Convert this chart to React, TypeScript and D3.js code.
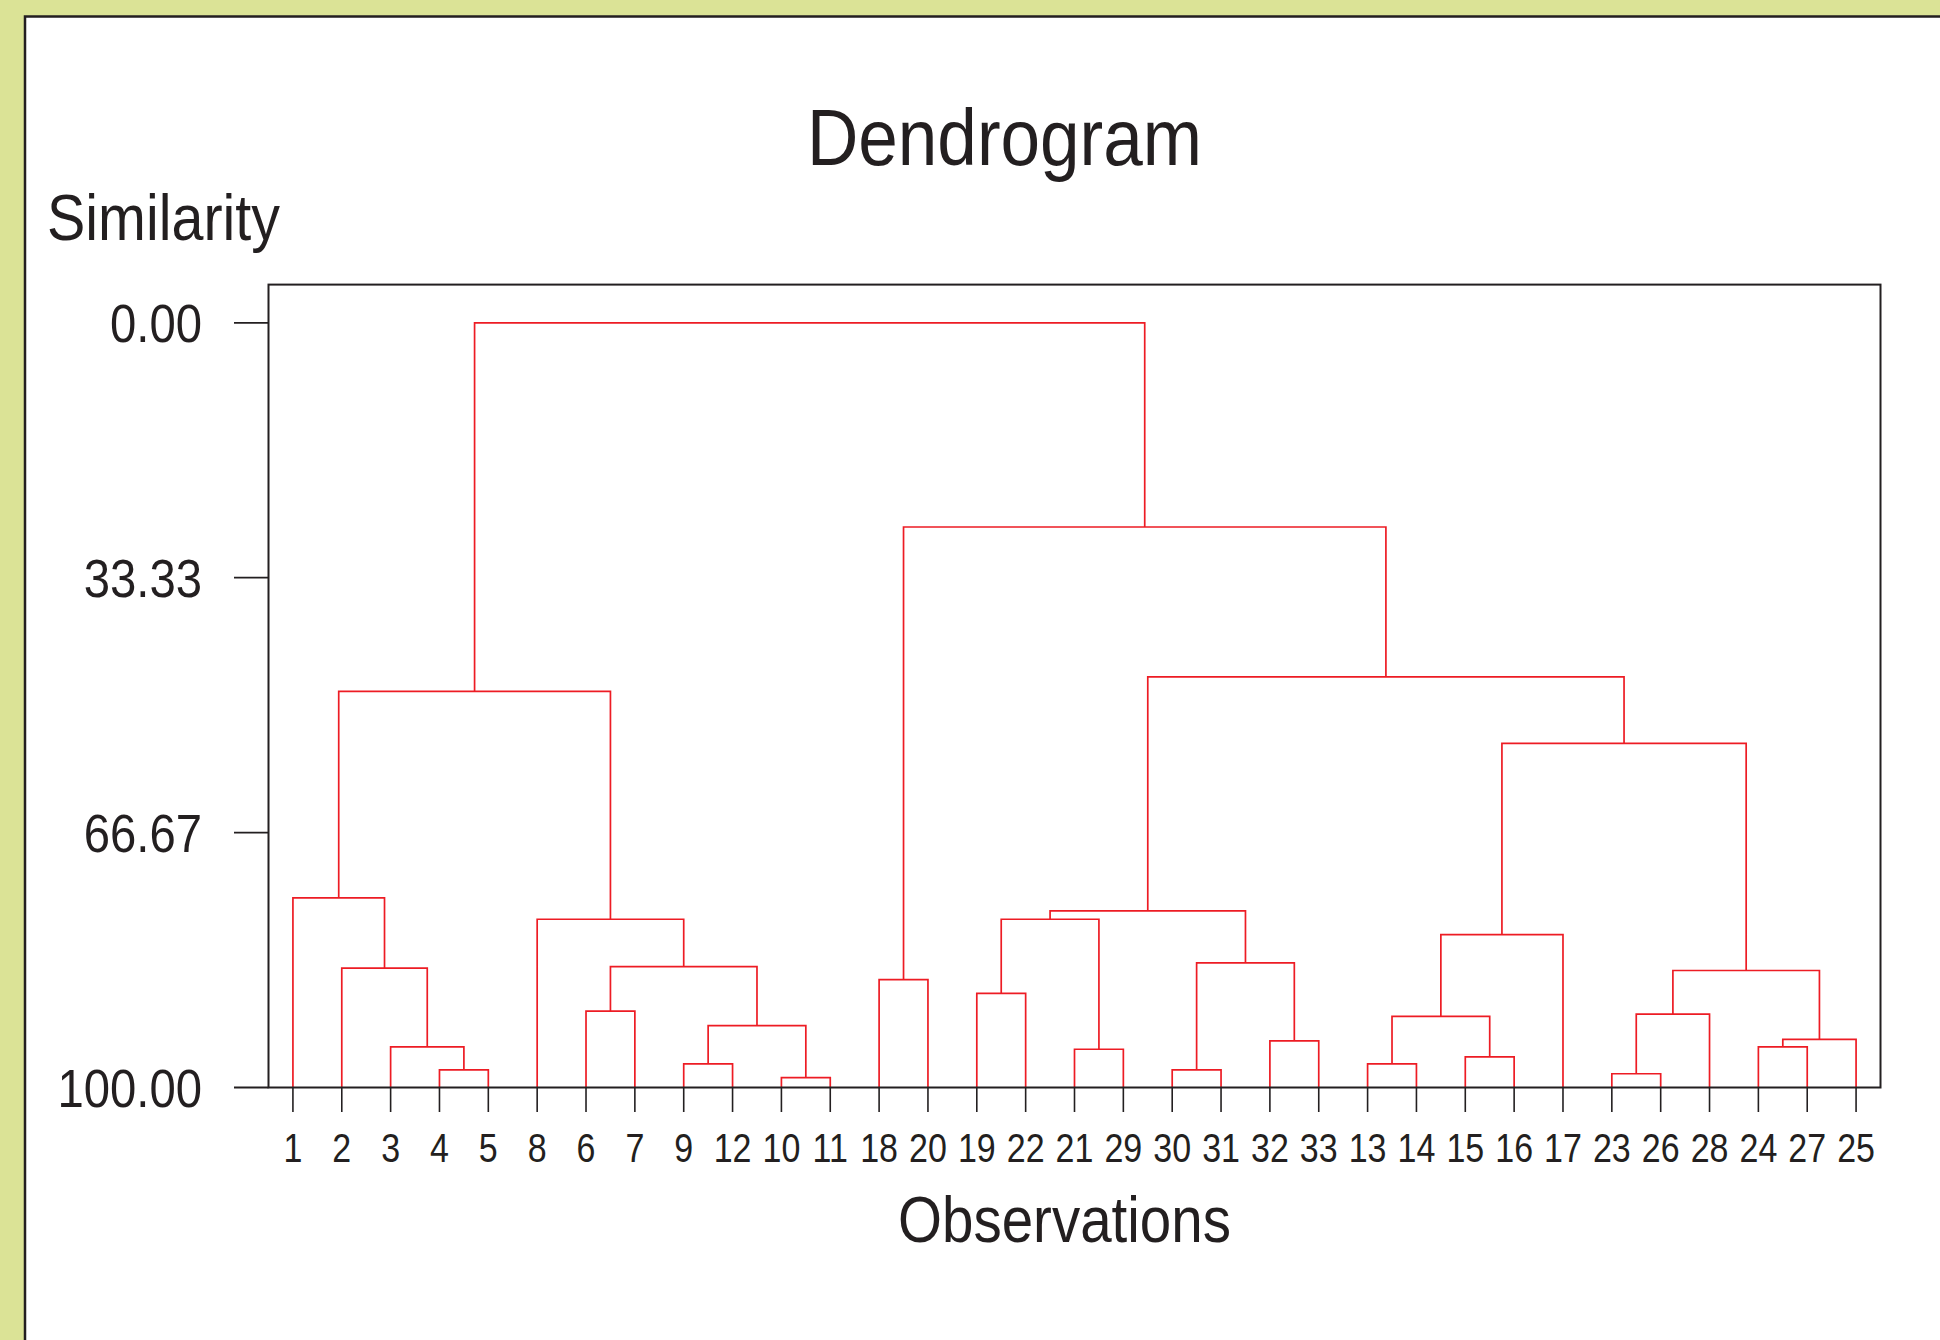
import React from "react";
import * as d3 from "d3";

// ---- Data ----
const leafOrder = ["1","2","3","4","5","8","6","7","9","12","10","11","18","20","19","22","21","29","30","31","32","33","13","14","15","16","17","23","26","28","24","27","25"];

// Linkage: each merge joins two nodes (leaf label or "c<k>" = k-th merge, 1-based) at a similarity level
const mergeLeft = ["4","3","2","1","10","9","c6","6","c8","8","c4","18","19","21","c13","30","32","c16","c15","13","15","c20","c22","23","c24","24","c26","c25","c23","c19","c12","c11"];
const mergeRight = ["5","c1","c2","c3","11","12","c5","7","c7","c9","c10","20","22","29","c14","31","33","c17","c18","14","16","c21","17","26","28","27","25","c27","c28","c29","c30","c31"];
const mergeSimilarity = [97.7,94.7,84.4,75.2,98.7,96.9,91.9,90.0,84.2,78.0,48.2,85.9,87.7,95.0,78.0,97.7,93.9,83.7,76.9,96.9,96.0,90.7,80.0,98.2,90.4,94.7,93.7,84.7,55.0,46.3,26.7,0.0];

const yTickValues = [0, 33.33, 66.67, 100];
const yTickLabels = ["0.00", "33.33", "66.67", "100.00"];

const titleText = "Dendrogram";
const yTitle = "Similarity";
const xTitle = "Observations";

// ---- Layout ----
const W = 1940, H = 1340;
const box = { left: 268.5, top: 284.6, right: 1880.5, bottom: 1087.5 };
const RED = "#ed1c24";
const INK = "#231f20";
const FONT = "'Liberation Sans', Arial, Helvetica, sans-serif";

type Node = { id: string; sim: number; children?: Node[] };

function buildTree(): Node {
  const nodes: Record<string, Node> = {};
  leafOrder.forEach((l) => (nodes[l] = { id: l, sim: 100 }));
  mergeLeft.forEach((l, i) => {
    const id = "c" + (i + 1);
    nodes[id] = { id, sim: mergeSimilarity[i], children: [nodes[l], nodes[mergeRight[i]]] };
  });
  return nodes["c" + mergeLeft.length];
}

export default function App() {
  const x = d3.scalePoint<string>().domain(leafOrder).range([box.left, box.right]).padding(0.5);
  const y = d3.scaleLinear().domain([-5, 100]).range([box.top, box.bottom]);

  const root = d3.hierarchy<Node>(buildTree(), (d) => d.children);
  const xs = new Map<any, number>();
  root.eachAfter((n: any) => {
    if (!n.children) xs.set(n, x(n.data.id) as number);
    else xs.set(n, (xs.get(n.children[0])! + xs.get(n.children[1])!) / 2);
  });

  const paths: string[] = [];
  root.each((n: any) => {
    if (!n.children) return;
    const [a, b] = n.children;
    const p = d3.path();
    p.moveTo(xs.get(a)!, y(a.data.sim));
    p.lineTo(xs.get(a)!, y(n.data.sim));
    p.lineTo(xs.get(b)!, y(n.data.sim));
    p.lineTo(xs.get(b)!, y(b.data.sim));
    paths.push(p.toString());
  });

  return (
    <svg width={W} height={H} style={{ position: "absolute", left: 0, top: 0 }} fontFamily={FONT}>
      <rect x={0} y={0} width={W} height={H} fill="#dbe396" />
      <rect x={25} y={16.5} width={W + 20} height={H + 20} fill="#ffffff" stroke={INK} strokeWidth={2.5} />

      <text x={1004.5} y={165} fontSize={80} textAnchor="middle" fill={INK} textLength={395} lengthAdjust="spacingAndGlyphs">{titleText}</text>
      <text x={47} y={240} fontSize={64} fill={INK} textLength={233} lengthAdjust="spacingAndGlyphs">{yTitle}</text>
      <text x={1064.5} y={1242} fontSize={64} textAnchor="middle" fill={INK} textLength={333} lengthAdjust="spacingAndGlyphs">{xTitle}</text>

      {/* y ticks */}
      {yTickValues.map((v, i) => (
        <g key={"yt" + i}>
          <line x1={234} x2={box.left} y1={y(v)} y2={y(v)} stroke={INK} strokeWidth={1.8} />
          <g transform={`translate(202,${y(v) + 19}) scale(0.875,1)`}>
            <text x={0} y={0} fontSize={54} textAnchor="end" fill={INK}>{yTickLabels[i]}</text>
          </g>
        </g>
      ))}

      {/* x ticks and labels */}
      {leafOrder.map((l) => (
        <g key={"xt" + l}>
          <line x1={x(l)} x2={x(l)} y1={box.bottom} y2={1112} stroke={INK} strokeWidth={1.6} />
          <g transform={`translate(${x(l)},1162) scale(0.85,1)`}>
            <text x={0} y={0} fontSize={40} textAnchor="middle" fill={INK}>{l}</text>
          </g>
        </g>
      ))}

      {/* dendrogram links */}
      {paths.map((d, i) => (
        <path key={"p" + i} d={d} fill="none" stroke={RED} strokeWidth={1.7} />
      ))}

      <rect x={box.left} y={box.top} width={box.right - box.left} height={box.bottom - box.top} fill="none" stroke={INK} strokeWidth={2} />
    </svg>
  );
}
